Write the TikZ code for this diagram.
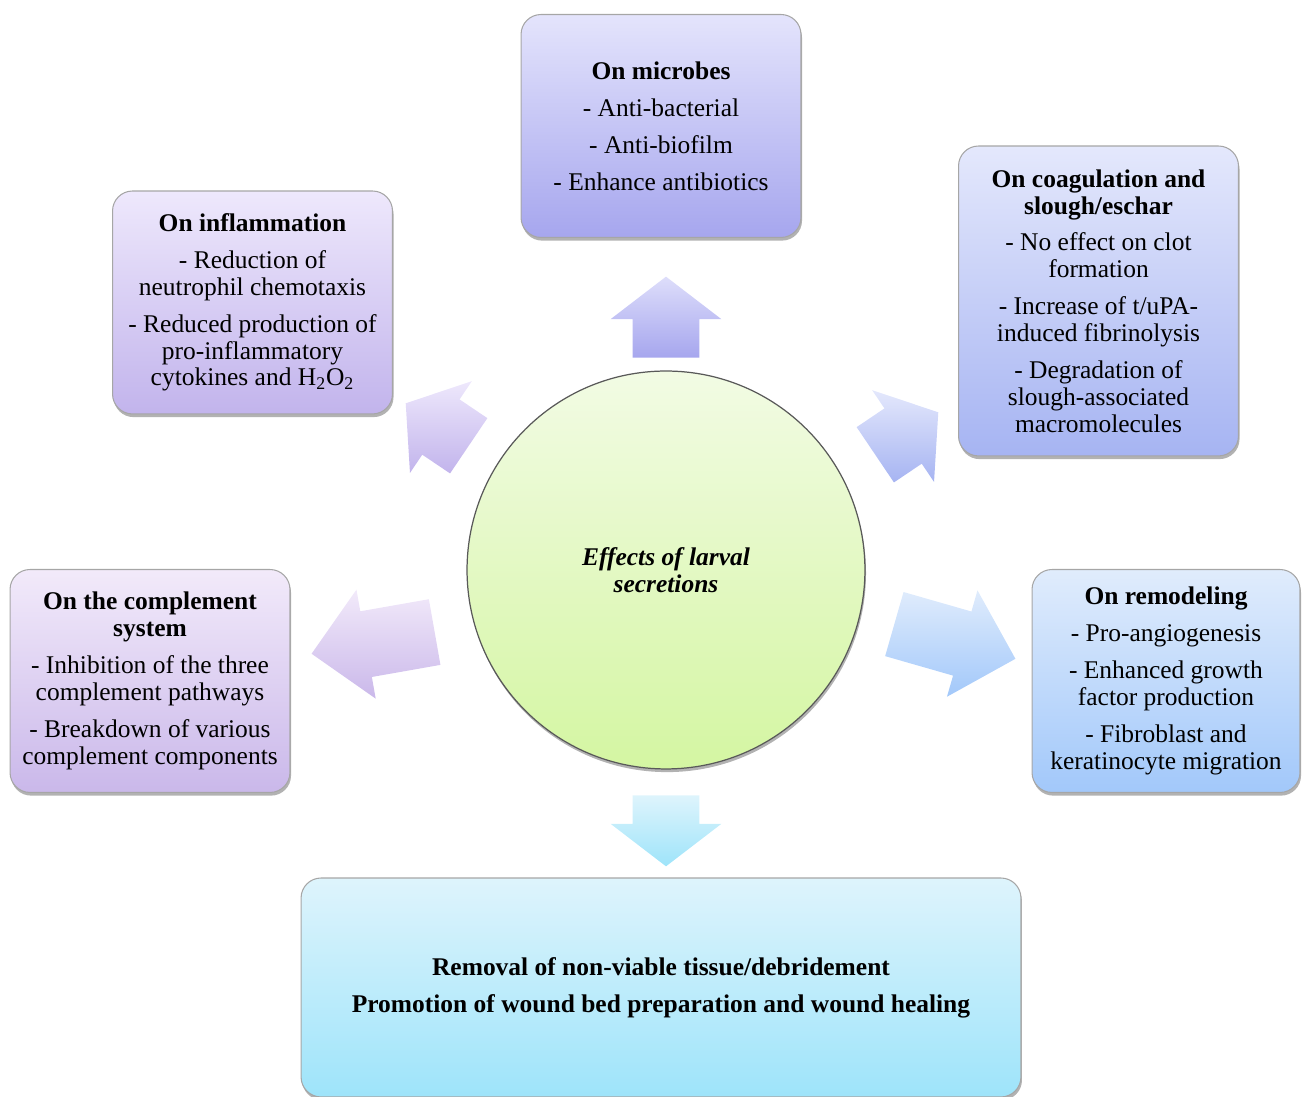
\documentclass[tikz,border=0pt]{standalone}
\usepackage{fontspec}
\setmainfont{Liberation Serif}
\usepackage{tikz}
\usetikzlibrary{shapes.arrows, shadows, positioning}
\definecolor{microbestop}{RGB}{228,228,252}
\definecolor{microbesbot}{RGB}{166,166,238}
\definecolor{inflamtop}{RGB}{238,232,252}
\definecolor{inflambot}{RGB}{194,180,236}
\definecolor{coagtop}{RGB}{228,232,252}
\definecolor{coagbot}{RGB}{166,180,242}
\definecolor{compltop}{RGB}{242,234,250}
\definecolor{complbot}{RGB}{202,184,234}
\definecolor{remodtop}{RGB}{224,236,252}
\definecolor{remodbot}{RGB}{162,200,250}
\definecolor{woundtop}{RGB}{222,244,252}
\definecolor{woundbot}{RGB}{158,228,250}
\definecolor{circtop}{RGB}{242,251,228}
\definecolor{circbot}{RGB}{212,246,162}

\begin{document}
\begin{tikzpicture}[x=0.02cm, y=0.02cm,
    effectbox/.style={rectangle, rounded corners=0.4cm, draw=gray!70, line width=0.6pt,
        align=center, minimum width=5.6cm, minimum height=4.46cm, inner sep=2pt,
        font=\fontsize{14.5}{15.3}\selectfont,
        drop shadow={shadow xshift=0.6pt, shadow yshift=-1.8pt, fill=black, opacity=0.3}},
    blockarrow/.style={single arrow, inner xsep=0pt, inner ysep=0.66cm, anchor=tail,
        minimum width=2.2cm, single arrow head extend=0.44cm, single arrow tip angle=105}]
    \useasboundingbox (0,0) rectangle (1302,1097);

    % centre
    \node[circle, minimum size=7.96cm, draw=black!65, line width=0.7pt, top color=circtop,
        bottom color=circbot, align=center, font=\fontsize{14.5}{15.3}\selectfont\bfseries\itshape,
        drop shadow={shadow xshift=0.6pt, shadow yshift=-1.8pt, fill=black, opacity=0.3}]
        (effects) at (666,527) {Effects of larval\\secretions};

    % boxes
    \node[effectbox, top color=microbestop, bottom color=microbesbot] (microbes) at (661,971)
        {\textbf{On microbes}\\[0.2cm] - Anti-bacterial\\[0.2cm] - Anti-biofilm\\[0.2cm] - Enhance antibiotics};
    \node[effectbox, top color=inflamtop, bottom color=inflambot] (inflam) at (252.5,794.5)
        {\textbf{On inflammation}\\[0.2cm] - Reduction of\\ neutrophil chemotaxis\\[0.2cm]
         - Reduced production of\\ pro-inflammatory\\ cytokines and H\textsubscript{2}O\textsubscript{2}};
    \node[effectbox, top color=coagtop, bottom color=coagbot, minimum height=6.2cm] (coag) at (1098.5,796)
        {\textbf{On coagulation and}\\ \textbf{slough/eschar}\\[0.2cm] - No effect on clot\\ formation\\[0.2cm]
         - Increase of t/uPA-\\ induced fibrinolysis\\[0.2cm] - Degradation of\\ slough-associated\\ macromolecules};
    \node[effectbox, top color=compltop, bottom color=complbot] (complement) at (150,416)
        {\textbf{On the complement}\\ \textbf{system}\\[0.2cm] - Inhibition of the three\\ complement pathways\\[0.2cm]
         - Breakdown of various\\ complement components};
    \node[effectbox, top color=remodtop, bottom color=remodbot, minimum width=5.36cm] (remodel) at (1166,416)
        {\textbf{On remodeling}\\[0.2cm] - Pro-angiogenesis\\[0.2cm] - Enhanced growth\\ factor production\\[0.2cm]
         - Fibroblast and\\ keratinocyte migration};
    \node[effectbox, top color=woundtop, bottom color=woundbot, minimum width=14.4cm, minimum height=4.38cm]
        (wound) at (661,109.5)
        {\textbf{Removal of non-viable tissue/debridement}\\[0.2cm]
         \textbf{Promotion of wound bed preparation and wound healing}};

    % block arrows
    \node[blockarrow, minimum height=1.62cm, rotate=90, top color=microbestop!90!microbesbot,
        bottom color=microbesbot] (toMicrobes) at (666,739) {};
    \node[blockarrow, minimum height=1.52cm, rotate=146, top color=inflamtop,
        bottom color=inflambot] (toInflam) at (469,651) {};
    \node[blockarrow, minimum height=1.52cm, rotate=34, top color=coagtop,
        bottom color=coagbot] (toCoag) at (875,642) {};
    \node[blockarrow, minimum height=2.5cm, rotate=190, single arrow tip angle=90,
        top color=compltop, bottom color=complbot] (toComplement) at (435,465) {};
    \node[blockarrow, minimum height=2.52cm, rotate=-16, single arrow tip angle=90,
        top color=remodtop, bottom color=remodbot] (toRemodel) at (894,473) {};
    \node[blockarrow, minimum height=1.42cm, rotate=-90, top color=woundtop,
        bottom color=woundbot] (toWound) at (666,302) {};
\end{tikzpicture}
\end{document}
